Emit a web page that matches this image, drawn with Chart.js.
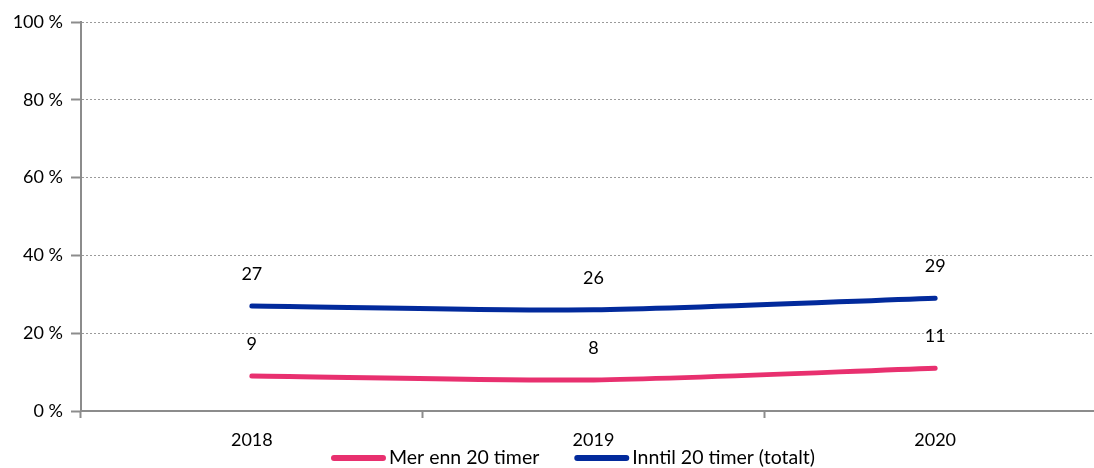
<!DOCTYPE html>
<html>
<head>
<meta charset="utf-8">
<script src="https://cdn.jsdelivr.net/npm/chart.js@4.4.1/dist/chart.umd.min.js"></script>
<style>
    html, body { margin: 0; padding: 0; background: #fff; overflow: hidden; }
    #wrap { width: 1106px; height: 468px; }
</style>
</head>
<body>
<div id="wrap"><canvas id="grafica"></canvas></div>
<script>

    var years = ['2018', '2019', '2020']
    var merEnn20 = [9, 8, 11]
    var inntil20 = [27, 26, 29]
    var seriesNames = ['Mer enn 20 timer', 'Inntil 20 timer (totalt)']
    var yTicks = [0, 20, 40, 60, 80, 100]

    var fontFamily = 'Lato, "Noto Sans", sans-serif'
    var fontSize = 18

    /* Value labels over every point */
    var valueLabels = {
        id: 'valueLabels',
        afterDatasetsDraw: function(chart) {
            var ctx = chart.ctx
            ctx.save()
            ctx.font = fontSize + 'px ' + fontFamily
            ctx.fillStyle = '#000'
            ctx.textAlign = 'center'
            ctx.textBaseline = 'middle'
            chart.data.datasets.forEach(function(ds, i) {
                var meta = chart.getDatasetMeta(i)
                meta.data.forEach(function(pt, j) {
                    ctx.fillText(ds.data[j], pt.x, pt.y - 32)
                })
            })
            ctx.restore()
        }
    }

    /* Legend drawn under the axis, line sample + text */
    var lineLegend = {
        id: 'lineLegend',
        afterDraw: function(chart) {
            var ctx = chart.ctx
            var sample = 55, gap = 3, between = 35
            ctx.save()
            ctx.font = '19.5px ' + fontFamily
            var widths = chart.data.datasets.map(function(ds) {
                return sample + gap + ctx.measureText(ds.label).width
            })
            var total = widths.reduce(function(a, b) { return a + b }, 0) + between * (widths.length - 1)
            var x = 573 - total / 2
            var y = 458
            chart.data.datasets.forEach(function(ds, i) {
                ctx.strokeStyle = ds.borderColor
                ctx.lineWidth = 6
                ctx.lineCap = 'round'
                ctx.beginPath()
                ctx.moveTo(x + 3, y)
                ctx.lineTo(x + sample - 3, y)
                ctx.stroke()
                ctx.fillStyle = '#000'
                ctx.textAlign = 'left'
                ctx.textBaseline = 'middle'
                ctx.fillText(ds.label, x + sample + gap, y)
                x += widths[i] + between
            })
            ctx.restore()
        }
    }

    var config = {
        type: 'line',
        data: {
            labels: years,
            datasets: [{
                label: seriesNames[0],
                data: merEnn20,
                borderColor: '#e8306f',
                backgroundColor: '#e8306f',
                borderWidth: 5,
                borderCapStyle: 'round',
                pointRadius: 0,
                tension: 0.25
            }, {
                label: seriesNames[1],
                data: inntil20,
                borderColor: '#022a9c',
                backgroundColor: '#022a9c',
                borderWidth: 5,
                borderCapStyle: 'round',
                pointRadius: 0,
                tension: 0.25
            }]
        },
        options: {
            responsive: true,
            maintainAspectRatio: false,
            animation: false,
            layout: {
                padding: { top: 22, left: 0, right: 0, bottom: 0 }
            },
            plugins: {
                legend: { display: false },
                tooltip: { enabled: false }
            },
            scales: {
                x: {
                    offset: true,
                    grid: {
                        offset: true,
                        drawOnChartArea: false,
                        drawTicks: true,
                        tickLength: 7,
                        tickColor: '#8c8c8c',
                        tickWidth: 2
                    },
                    border: { color: '#8c8c8c', width: 2 },
                    ticks: {
                        color: '#000',
                        padding: 11,
                        maxRotation: 0,
                        font: { family: fontFamily, size: fontSize }
                    },
                    afterFit: function(scale) { scale.height = 57 }
                },
                y: {
                    min: 0,
                    max: 100,
                    afterBuildTicks: function(scale) {
                        scale.ticks = yTicks.map(function(v) { return { value: v } })
                    },
                    grid: {
                        color: '#9a9a9a',
                        lineWidth: 1,
                        tickLength: 10,
                        tickColor: '#8c8c8c',
                        tickWidth: 2,
                        tickBorderDash: []
                    },
                    border: { color: '#8c8c8c', width: 2, dash: [2, 2] },
                    ticks: {
                        color: '#000',
                        padding: 8,
                        font: { family: fontFamily, size: fontSize },
                        callback: function(v) { return v + ' %' }
                    },
                    afterFit: function(scale) { scale.width = 81 }
                }
            }
        },
        plugins: [valueLabels, lineLegend]
    }

    var ctx = document.getElementById('grafica').getContext('2d')
    window.myLine = new Chart(ctx, config)

</script>
</body>
</html>
